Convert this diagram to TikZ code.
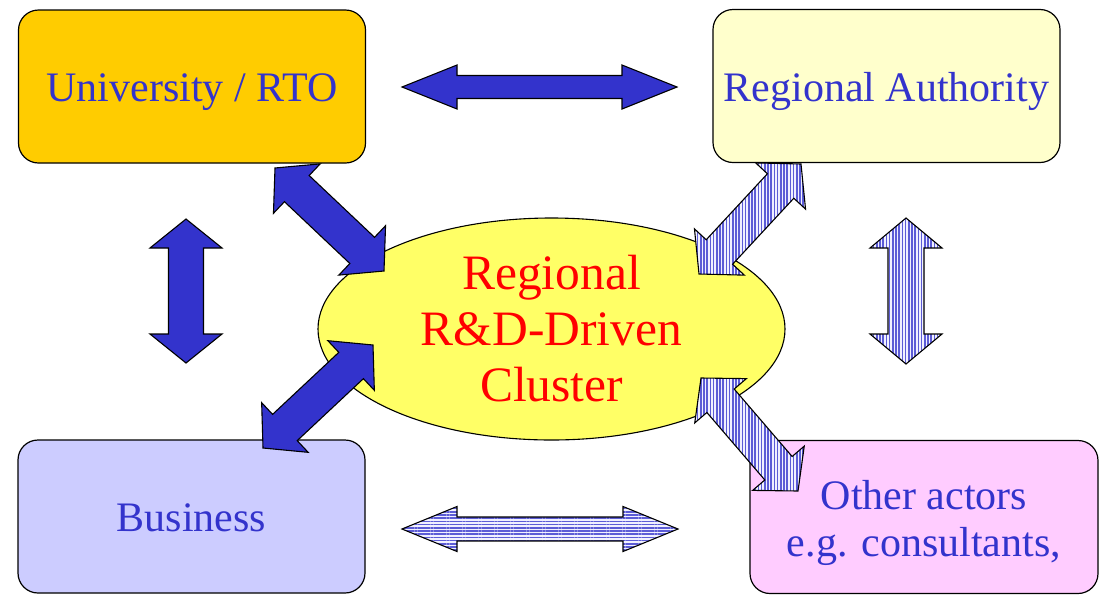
\documentclass[tikz,border=0pt]{standalone}
\usepackage{fontspec}
\setmainfont{Liberation Serif}
\usetikzlibrary{calc,shapes.geometric,patterns.meta}

\definecolor{labelblue}{HTML}{3333CC}
\definecolor{arrowblue}{HTML}{3333CC}
\definecolor{stripeblue}{HTML}{5C5CD6}
\definecolor{stripebg}{HTML}{F0F0FF}
\definecolor{unifill}{HTML}{FFCC00}
\definecolor{authfill}{HTML}{FFFFCC}
\definecolor{busfill}{HTML}{CCCCFF}
\definecolor{otherfill}{HTML}{FFCCFF}
\definecolor{clusterfill}{HTML}{FFFF66}

% double-headed block arrow between two named points:
% #1 style, #2/#3 end points, #4 head length, #5 head half-width, #6 shaft half-width
\newcommand\blockarrow[6]{%
  \path[#1]
    ($(#2)!#4!(#3)!#6!90:(#3)$) -- ($(#2)!#4!(#3)!#5!90:(#3)$) -- (#2)
    -- ($(#2)!#4!(#3)!#5!-90:(#3)$) -- ($(#2)!#4!(#3)!#6!-90:(#3)$)
    -- ($(#3)!#4!(#2)!#6!90:(#2)$) -- ($(#3)!#4!(#2)!#5!90:(#2)$) -- (#3)
    -- ($(#3)!#4!(#2)!#5!-90:(#2)$) -- ($(#3)!#4!(#2)!#6!-90:(#2)$) -- cycle;}

\tikzset{
  actor/.style={draw=black, line width=1.2pt, rounded corners=20pt,
    minimum width=347pt, minimum height=153pt, inner sep=0pt,
    font=\fontsize{42}{47}\selectfont, text=labelblue,
    text height=29pt, text depth=0pt},
  actortext/.style={inner sep=0pt, align=center, text=labelblue,
    font=\fontsize{42}{47}\selectfont},
  solidarrow/.style={fill=arrowblue, draw=black, line width=1.1pt, line join=miter},
  stripedv/.style={preaction={fill=stripebg}, draw=black, line width=1.1pt,
    pattern={Lines[angle=90,distance=3.2pt,line width=1.6pt]}, pattern color=stripeblue},
  stripedh/.style={preaction={fill=stripebg}, draw=black, line width=1.1pt,
    pattern={Lines[angle=0,distance=3.2pt,line width=1.6pt]}, pattern color=stripeblue},
}

\begin{document}
\begin{tikzpicture}[x=1pt, y=-1pt]
\useasboundingbox (0,0) rectangle (1102,595);

% partner boxes
\node[actor, fill=unifill] (uni) at (192,86.5) {University / RTO};
\node[actor, fill=busfill] (bus) at (191.5,516.5) {Business};
\node[actor, fill=otherfill, minimum width=348pt] (other) at (924,517) {};
\node[actortext] (otherlabel) at (924,523) {Other actors\\e.g. consultants,};

% central cluster
\node[ellipse, draw=black, line width=1.1pt, fill=clusterfill,
      minimum width=467pt, minimum height=222pt, inner sep=0pt,
      align=center, text=red, font=\fontsize{49.5}{56}\selectfont]
      (cluster) at (551.5,329) {Regional\\R\&D-Driven\\Cluster};

% arrow end points
\coordinate (t1) at (402,87);   \coordinate (t2) at (677,87);
\coordinate (b1) at (402,529);  \coordinate (b2) at (678,529);
\coordinate (l1) at (186,219);  \coordinate (l2) at (186,363);
\coordinate (r1) at (906,218);  \coordinate (r2) at (906,364);
\coordinate (ul1) at (275,168); \coordinate (ul2) at (384,271);
\coordinate (ll1) at (263,448); \coordinate (ll2) at (373,345);
\coordinate (ur1) at (801,164); \coordinate (ur2) at (699,274);
\coordinate (lr1) at (701,378); \coordinate (lr2) at (798,491);

% links
\blockarrow{solidarrow}{t1}{t2}{55pt}{22pt}{11.5pt}
\blockarrow{stripedh}{b1}{b2}{55pt}{22.5pt}{12pt}
\blockarrow{solidarrow}{l1}{l2}{29pt}{36pt}{17.5pt}
\blockarrow{stripedv}{r1}{r2}{30pt}{36pt}{18pt}
\blockarrow{solidarrow}{ul1}{ul2}{30pt}{34pt}{18pt}
\blockarrow{solidarrow}{ll1}{ll2}{30pt}{34pt}{18pt}
\blockarrow{stripedv}{ur1}{ur2}{30pt}{34pt}{18pt}
\blockarrow{stripedv}{lr1}{lr2}{30pt}{34pt}{18pt}

% authority box sits above the end of its link
\node[actor, fill=authfill, text height=30pt] (auth) at (886.5,86) {Regional Authority};
\end{tikzpicture}
\end{document}
